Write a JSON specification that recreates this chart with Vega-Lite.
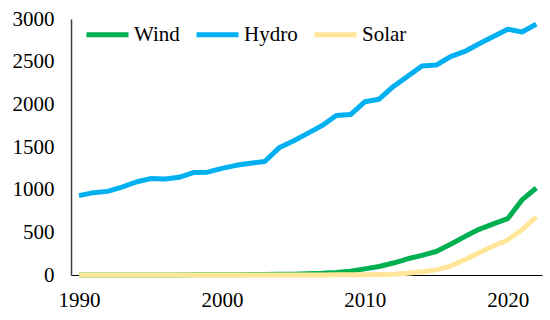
{
  "$schema": "https://vega.github.io/schema/vega-lite/v6.json",
  "autosize": {"type": "none"},
  "width": 471,
  "height": 256,
  "padding": {"left": 71, "top": 19, "right": 8, "bottom": 45},
  "background": "white",
  "config": {"view": {"stroke": null}, "font": "Liberation Serif"},
  "data": {"values": [
    {"year":1990,"source":"Hydro","v":930},{"year":1991,"source":"Hydro","v":965},{"year":1992,"source":"Hydro","v":980},{"year":1993,"source":"Hydro","v":1030},{"year":1994,"source":"Hydro","v":1090},{"year":1995,"source":"Hydro","v":1130},{"year":1996,"source":"Hydro","v":1125},{"year":1997,"source":"Hydro","v":1145},{"year":1998,"source":"Hydro","v":1200},{"year":1999,"source":"Hydro","v":1205},{"year":2000,"source":"Hydro","v":1250},{"year":2001,"source":"Hydro","v":1285},{"year":2002,"source":"Hydro","v":1310},{"year":2003,"source":"Hydro","v":1330},{"year":2004,"source":"Hydro","v":1490},{"year":2005,"source":"Hydro","v":1570},{"year":2006,"source":"Hydro","v":1660},{"year":2007,"source":"Hydro","v":1750},{"year":2008,"source":"Hydro","v":1870},{"year":2009,"source":"Hydro","v":1880},{"year":2010,"source":"Hydro","v":2030},{"year":2011,"source":"Hydro","v":2060},{"year":2012,"source":"Hydro","v":2210},{"year":2013,"source":"Hydro","v":2330},{"year":2014,"source":"Hydro","v":2450},{"year":2015,"source":"Hydro","v":2460},{"year":2016,"source":"Hydro","v":2560},{"year":2017,"source":"Hydro","v":2620},{"year":2018,"source":"Hydro","v":2710},{"year":2019,"source":"Hydro","v":2795},{"year":2020,"source":"Hydro","v":2880},{"year":2021,"source":"Hydro","v":2848},{"year":2022,"source":"Hydro","v":2940},
    {"year":1990,"source":"Wind","v":0},{"year":1991,"source":"Wind","v":0},{"year":1992,"source":"Wind","v":0},{"year":1993,"source":"Wind","v":1},{"year":1994,"source":"Wind","v":1},{"year":1995,"source":"Wind","v":1},{"year":1996,"source":"Wind","v":1},{"year":1997,"source":"Wind","v":1},{"year":1998,"source":"Wind","v":2},{"year":1999,"source":"Wind","v":2},{"year":2000,"source":"Wind","v":3},{"year":2001,"source":"Wind","v":4},{"year":2002,"source":"Wind","v":5},{"year":2003,"source":"Wind","v":6},{"year":2004,"source":"Wind","v":8},{"year":2005,"source":"Wind","v":10},{"year":2006,"source":"Wind","v":14},{"year":2007,"source":"Wind","v":20},{"year":2008,"source":"Wind","v":30},{"year":2009,"source":"Wind","v":45},{"year":2010,"source":"Wind","v":72},{"year":2011,"source":"Wind","v":100},{"year":2012,"source":"Wind","v":140},{"year":2013,"source":"Wind","v":190},{"year":2014,"source":"Wind","v":230},{"year":2015,"source":"Wind","v":275},{"year":2016,"source":"Wind","v":360},{"year":2017,"source":"Wind","v":450},{"year":2018,"source":"Wind","v":535},{"year":2019,"source":"Wind","v":600},{"year":2020,"source":"Wind","v":660},{"year":2021,"source":"Wind","v":880},{"year":2022,"source":"Wind","v":1020},
    {"year":1990,"source":"Solar","v":0},{"year":1991,"source":"Solar","v":0},{"year":1992,"source":"Solar","v":0},{"year":1993,"source":"Solar","v":0},{"year":1994,"source":"Solar","v":0},{"year":1995,"source":"Solar","v":0},{"year":1996,"source":"Solar","v":0},{"year":1997,"source":"Solar","v":0},{"year":1998,"source":"Solar","v":0},{"year":1999,"source":"Solar","v":0},{"year":2000,"source":"Solar","v":1},{"year":2001,"source":"Solar","v":1},{"year":2002,"source":"Solar","v":1},{"year":2003,"source":"Solar","v":1},{"year":2004,"source":"Solar","v":1},{"year":2005,"source":"Solar","v":1},{"year":2006,"source":"Solar","v":1},{"year":2007,"source":"Solar","v":1},{"year":2008,"source":"Solar","v":2},{"year":2009,"source":"Solar","v":2},{"year":2010,"source":"Solar","v":3},{"year":2011,"source":"Solar","v":5},{"year":2012,"source":"Solar","v":10},{"year":2013,"source":"Solar","v":20},{"year":2014,"source":"Solar","v":38},{"year":2015,"source":"Solar","v":60},{"year":2016,"source":"Solar","v":105},{"year":2017,"source":"Solar","v":180},{"year":2018,"source":"Solar","v":260},{"year":2019,"source":"Solar","v":340},{"year":2020,"source":"Solar","v":410},{"year":2021,"source":"Solar","v":530},{"year":2022,"source":"Solar","v":680}
  ]},
  "mark": {"type": "line", "strokeWidth": 5, "strokeJoin": "round", "clip": false},
  "encoding": {
    "x": {"field": "year", "type": "quantitative",
      "scale": {"domain": [1989.44, 2022.4], "nice": false, "zero": false},
      "axis": {"title": null, "values": [1990, 2000, 2010, 2020], "format": "d", "grid": false, "ticks": false,
        "domainColor": "#000000", "domainWidth": 1, "labelFont": "Liberation Serif", "labelFontSize": 21,
        "labelColor": "#000000", "labelPadding": 14}},
    "y": {"field": "v", "type": "quantitative",
      "scale": {"domain": [0, 3000], "nice": false},
      "axis": {"title": null, "values": [0, 500, 1000, 1500, 2000, 2500, 3000], "format": "d", "grid": false, "ticks": false,
        "domainColor": "#404040", "domainWidth": 1.5, "labelFont": "Liberation Serif", "labelFontSize": 21,
        "labelColor": "#000000", "labelPadding": 17}},
    "color": {"field": "source", "type": "nominal",
      "scale": {"domain": ["Wind", "Hydro", "Solar"], "range": ["#00B050", "#00B0F0", "#FFE699"]},
      "legend": {"title": null, "orient": "none", "legendX": 13, "legendY": -8, "direction": "horizontal",
        "symbolType": "stroke", "symbolSize": 1764, "symbolStrokeWidth": 5, "labelFont": "Liberation Serif",
        "labelFontSize": 21, "labelColor": "#000000", "labelOffset": 3, "columnPadding": 6, "labelLimit": 200}}
  }
}
